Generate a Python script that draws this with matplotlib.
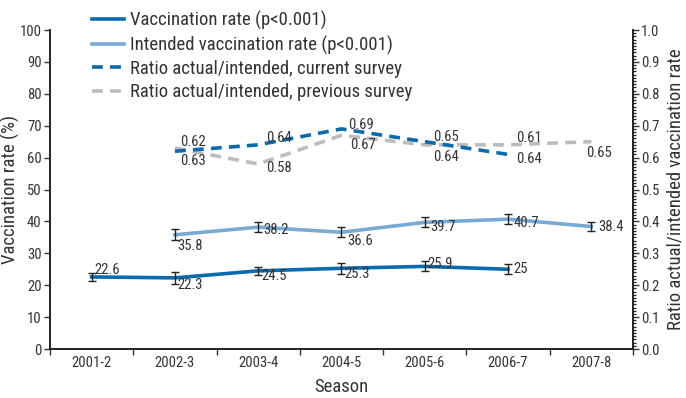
import matplotlib.pyplot as plt
from matplotlib import font_manager
from matplotlib.ticker import MultipleLocator, FormatStrFormatter
import numpy as np

seasons = ['2001-2', '2002-3', '2003-4', '2004-5', '2005-6', '2006-7', '2007-8']
vacc = [22.6, 22.3, 24.5, 25.3, 25.9, 25.0, np.nan]
vacc_err = [1.3, 1.8, 1.3, 1.7, 1.6, 1.6, np.nan]
intended = [np.nan, 35.8, 38.2, 36.6, 39.7, 40.7, 38.4]
intended_err = [np.nan, 1.7, 1.6, 1.6, 1.6, 1.6, 1.4]
ratio_cur = [np.nan, 0.62, 0.64, 0.69, 0.65, 0.61, np.nan]
ratio_prev = [np.nan, 0.63, 0.58, 0.67, 0.64, 0.64, 0.65]

dark_blue = '#0a6aac'
light_blue = '#78aad6'
grey = '#bcbcbc'
txt = '#333333'

# pick a narrow face if one is around
family = 'DejaVu Sans'
for name in ['DejaVu Sans Condensed', 'Liberation Sans Narrow', 'Roboto Condensed']:
    try:
        font_manager.findfont(name, fallback_to_default=False)
        family = name
        break
    except ValueError:
        pass

plt.rcParams['font.family'] = [family, 'DejaVu Sans']
plt.rcParams['text.color'] = txt
plt.rcParams['axes.labelcolor'] = txt
plt.rcParams['xtick.color'] = txt
plt.rcParams['ytick.color'] = txt

fig = plt.figure(figsize=(6.86, 3.98), dpi=100)
ax = fig.add_axes([0.0729, 0.1231, 0.8498, 0.8015])
ax2 = ax.twinx()

x = np.arange(len(seasons))

# percentages on the left axis
l1, = ax.plot(x, vacc, color=dark_blue, lw=2.6, zorder=3)
ax.errorbar(x, vacc, yerr=vacc_err, fmt='none', ecolor='#222222', elinewidth=1, capsize=3, capthick=1, zorder=4)
l2, = ax.plot(x, intended, color=light_blue, lw=2.6, zorder=3)
ax.errorbar(x, intended, yerr=intended_err, fmt='none', ecolor='#222222', elinewidth=1, capsize=3, capthick=1, zorder=4)

# ratios on the right axis
l3, = ax2.plot(x, ratio_cur, color=dark_blue, lw=2.6, ls=(0, (3, 2)), zorder=3)
l4, = ax2.plot(x, ratio_prev, color=grey, lw=2.6, ls=(0, (3, 2)), zorder=2)

fs = 10.5
# value labels for the rates
vacc_off = [(2, 5), (2, -5), (2, -4), (2, -4), (2, 2), (4, 0), None]
for i, v in enumerate(vacc):
    if np.isnan(v):
        continue
    dx, dy = vacc_off[i]
    ax.annotate(f'{v:g}', (x[i], v), xytext=(dx, dy), textcoords='offset points',
                fontsize=fs, va='center', ha='left')
int_off = [None, (2, -8), (4, -2), (4, -6), (4, -3), (4, -3), (5, 0)]
for i, v in enumerate(intended):
    if np.isnan(v):
        continue
    dx, dy = int_off[i]
    ax.annotate(f'{v:g}', (x[i], v), xytext=(dx, dy), textcoords='offset points',
                fontsize=fs, va='center', ha='left')

cur_off = [None, (4, 7), (6, 5), (5, 3), (6, 3), (6, 12), None]
for i, v in enumerate(ratio_cur):
    if np.isnan(v):
        continue
    dx, dy = cur_off[i]
    ax2.annotate(f'{v:.2f}', (x[i], v), xytext=(dx, dy), textcoords='offset points',
                 fontsize=fs, va='center', ha='left')
prev_off = [None, (4, -9), (6, -3), (6, -7), (6, -9), (6, -10), (-4, -8)]
for i, v in enumerate(ratio_prev):
    if np.isnan(v):
        continue
    dx, dy = prev_off[i]
    ax2.annotate(f'{v:.2f}', (x[i], v), xytext=(dx, dy), textcoords='offset points',
                 fontsize=fs, va='center', ha='left')

ax.set_xlim(-0.5, 6.5)
ax.set_ylim(0, 100)
ax2.set_ylim(0, 1.0)
ax.yaxis.set_major_locator(MultipleLocator(10))
ax2.yaxis.set_major_locator(MultipleLocator(0.1))
ax2.yaxis.set_minor_locator(MultipleLocator(0.01))
ax2.yaxis.set_major_formatter(FormatStrFormatter('%.1f'))

ax.set_xticks(x)
ax.set_xticklabels(seasons)
ax.set_xticks(np.arange(-0.5, 7, 1), minor=True)
ax.tick_params(axis='x', which='major', length=0, pad=5, labelsize=fs)
ax.tick_params(axis='x', which='minor', length=4, width=1)
ax.tick_params(axis='y', length=4, width=1, labelsize=fs, pad=2)
ax2.tick_params(axis='y', which='major', length=4, width=1, labelsize=fs, pad=2)
ax2.tick_params(axis='y', which='minor', length=2.5, width=0.9, color='#222222')

for a in (ax, ax2):
    a.spines['top'].set_visible(False)
    for s in ('left', 'right', 'bottom'):
        a.spines[s].set_color('#222222')
        a.spines[s].set_linewidth(1.2)

ax.set_xlabel('Season', fontsize=13.5, labelpad=6)
ax.set_ylabel('Vaccination rate (%)', fontsize=13.5, labelpad=0)
ax2.set_ylabel('Ratio actual/intended vaccination rate', fontsize=13.5, labelpad=5)

fig.legend([l1, l2, l3, l4],
           ['Vaccination rate (p<0.001)', 'Intended vaccination rate (p<0.001)',
            'Ratio actual/intended, current survey', 'Ratio actual/intended, previous survey'],
           loc='upper left', bbox_to_anchor=(0.115, 1.005), frameon=False, fontsize=13.5,
           handlelength=1.7, handletextpad=0.3, labelspacing=0.28, borderaxespad=0.3)

fig.savefig('out.png', dpi=100)
